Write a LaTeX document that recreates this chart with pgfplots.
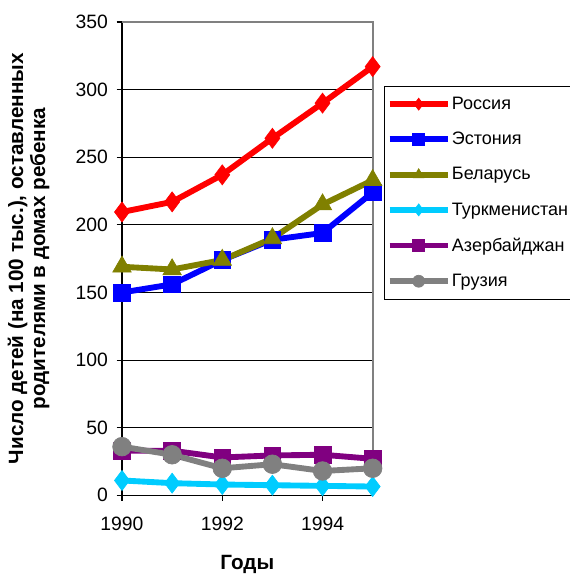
\documentclass[border=0pt]{standalone}
\usepackage{pgfplots}
\pgfplotsset{compat=1.18}
\usepackage{fontspec}
\setmainfont{Liberation Sans}
\definecolor{cRu}{HTML}{FF0000}
\definecolor{cEe}{HTML}{0000FF}
\definecolor{cBy}{HTML}{808000}
\definecolor{cTm}{HTML}{00CCFF}
\definecolor{cAz}{HTML}{800080}
\definecolor{cGe}{HTML}{808080}
\begin{document}
\begin{tikzpicture}
\begin{axis}[
  name=ax,
  scale only axis,
  width=188pt, height=355pt,
  xmin=1990, xmax=1995, ymin=0, ymax=350,
  xtick={1990,1992,1994},
  ytick={0,50,...,300},
  xticklabel style={/pgf/number format/1000 sep={}, yshift=-9pt},
  yticklabel style={xshift=-3pt},
  /pgf/number format/assume math mode=true,
  tick label style={font=\fontsize{14.5}{16}\selectfont},
  ymajorgrids, grid style={black, line width=0.6pt},
  axis x line*=bottom,
  axis y line*=left,
  axis line style={black, line width=0.8pt, -},
  tick style={black, line width=0.8pt},
  tick align=outside,
  major tick length=4pt,
  extra y ticks={350},
  extra y tick style={grid=none},
  xlabel={Годы},
  xlabel style={font=\fontsize{15.5}{17}\selectfont\bfseries, at={(axis description cs:0.5,0)}, anchor=center, yshift=-52pt},
  ylabel={Число детей (на 100 тыс.), оставленных\\родителями в домах ребенка},
  ylabel style={font=\fontsize{15.5}{16.5}\selectfont\bfseries, align=center, at={(axis description cs:0,0.5)}, anchor=center, yshift=70pt},
  every axis plot/.append style={line width=4.4pt},
  legend style={at={(rel axis cs:1.044,0.865)}, anchor=north west,
    draw=black, line width=0.6pt, font=\fontsize{13.5}{15}\selectfont,
    row sep=11.6pt, inner xsep=2pt, inner ysep=6pt,
    nodes={inner xsep=1pt}},
  legend cell align=left,
  legend image code/.code={
    \draw[#1, mark repeat=2, mark phase=2, line width=4.4pt, mark size=4.5pt] plot coordinates {(0pt,0pt) (21.75pt,0pt) (43.5pt,0pt)};
  },
  clip=false,
]
\draw[cGe, line width=1.4pt] (rel axis cs:0,1) -- (rel axis cs:1,1) -- (rel axis cs:1,0);
\addplot[cRu, mark=diamond*, mark size=7.5pt, mark options={solid, line width=0.5pt}]
 coordinates {(1990,209.5) (1991,217) (1992,237) (1993,264) (1994,290) (1995,317)};
\addlegendentry{Россия}
\addplot[cEe, mark=square*, mark size=6.3pt, mark options={solid, line width=0.5pt}]
 coordinates {(1990,150) (1991,156) (1992,174) (1993,189) (1994,194) (1995,224)};
\addlegendentry{Эстония}
\addplot[cBy, mark=triangle*, mark size=8pt, mark options={solid, line width=0.5pt}]
 coordinates {(1990,169) (1991,167) (1992,174) (1993,190) (1994,215) (1995,233)};
\addlegendentry{Беларусь}
\addplot[cTm, mark=diamond*, mark size=7.5pt, mark options={solid, line width=0.5pt}]
 coordinates {(1990,11) (1991,9) (1992,8) (1993,7.5) (1994,7) (1995,6.5)};
\addlegendentry{Туркменистан}
\addplot[cAz, mark=square*, mark size=6.3pt, mark options={solid, line width=0.5pt}]
 coordinates {(1990,33) (1991,33) (1992,28) (1993,29.5) (1994,30) (1995,27)};
\addlegendentry{Азербайджан}
\addplot[cGe, mark=*, mark size=7pt, mark options={solid, line width=0.5pt}]
 coordinates {(1990,36) (1991,30) (1992,20) (1993,23) (1994,18) (1995,20)};
\addlegendentry{Грузия}
\end{axis}
\pgfresetboundingbox
\path[use as bounding box] ([xshift=-91.5pt,yshift=-59pt]ax.south west) rectangle ([xshift=148pt,yshift=16.5pt]ax.north east);
\end{tikzpicture}
\end{document}
